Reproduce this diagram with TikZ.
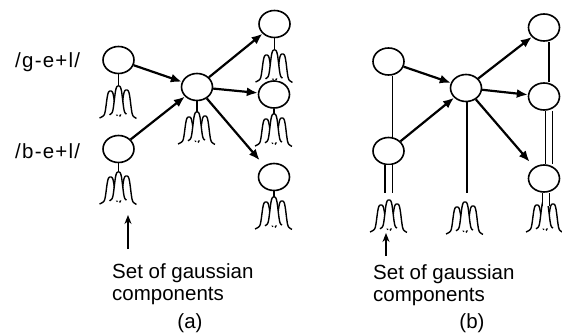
\documentclass[tikz,border=0pt]{standalone}
\usepackage{fontspec}
\setmainfont{Liberation Sans}
\newfontfamily\lblfont{Liberation Sans}[LetterSpace=6]
\usetikzlibrary{shapes.geometric,arrows.meta}

\tikzset{
  hmmstate/.style={ellipse, draw, line width=1.6pt, fill=white,
    minimum width=31pt, minimum height=27pt, inner sep=0pt},
  trans/.style={line width=2.2pt, -{Latex[length=11pt,width=9pt]}},
  tie/.style={line width=1.2pt},
  tiedouble/.style={line width=1.1pt, double, double distance=6pt},
  pointer/.style={line width=1.2pt, -{Stealth[length=9pt,width=7pt]}},
  caption/.style={font=\fontsize{20.5}{22}\selectfont, align=left, inner sep=0pt},
  phone/.style={font=\fontsize{20.5}{22}\selectfont\lblfont, inner sep=0pt},
  bell/.style={line width=1.4pt, fill=white},
  % one component: rounded finger with flaring tails
  declare function={fing(\t)=0.75*exp(-((\t)*(\t)/20.25)^2)+0.25*exp(-(\t)*(\t)/64);},
  % three overlapping gaussian components, hanging from the pic origin
  gmix/.pic={
    \filldraw[bell] plot[domain=-11:7, samples=51, smooth]
      ({\x-8},{33-28*fing(\x)});
    \filldraw[bell] plot[domain=-7:10, samples=51, smooth]
      ({\x+8},{34-30*fing(\x)});
    \filldraw[bell] plot[domain=-9:8, samples=51, smooth]
      ({\x},{31-31*fing(\x)});
  }
}

\begin{document}
\begin{tikzpicture}[x=1pt, y=-1pt]
  \fill[white] (0,0) rectangle (562,334);
  \useasboundingbox (0,0) rectangle (562,334);

  % ---------- (a) untied model ----------
  \node[phone, anchor=west] (lg) at (15,62) {/g-e+l/};
  \node[phone, anchor=west] (lb) at (15,151) {/b-e+l/};

  \node[hmmstate] (g)  at (118.5,60)  {};
  \node[hmmstate] (b)  at (118.5,149) {};
  \node[hmmstate] (c)  at (197,87)    {};
  \node[hmmstate] (r1) at (274.5,24)  {};
  \node[hmmstate] (r2) at (274,94.5)  {};
  \node[hmmstate] (r3) at (274,177)   {};

  \coordinate (gG)  at (118.5,86);
  \coordinate (bG)  at (118.5,172);
  \coordinate (cG)  at (197,112);
  \coordinate (r1G) at (274.5,50);
  \coordinate (r2G) at (274,114);
  \coordinate (r3G) at (274,197);

  \foreach \s in {g,b,c,r1,r2,r3}{
    \draw[tie] (\s.south) -- (\s G);
    \pic at (\s G) {gmix};
  }

  \draw[trans] (g) -- (c);
  \draw[trans] (b) -- (c);
  \draw[trans] (c) -- (r1);
  \draw[trans] (c) -- (r2);
  \draw[trans, shorten >=7pt] (c) -- (r3);

  \coordinate (pa0) at (128,249);
  \coordinate (pa1) at (128,215);
  \draw[pointer] (pa0) -- (pa1);

  \node[caption, anchor=base west] (capa) at (112,300) {Set of gaussian\\components};
  \node[caption, anchor=base] (taga) at (190,328) {(a)};

  % ---------- (b) tied model ----------
  \node[hmmstate] (g2) at (388.5,61.5) {};
  \node[hmmstate] (b2) at (388.5,151)  {};
  \node[hmmstate] (c2) at (466,88)     {};
  \node[hmmstate] (s1) at (544,27.5)   {};
  \node[hmmstate] (s2) at (544,96.5)   {};
  \node[hmmstate] (s3) at (544,178.5)  {};

  \coordinate (b2G) at (389,200);
  \coordinate (b2T) at (388.5,193);
  \coordinate (c2G) at (465,202);
  \coordinate (c2T) at (467,193);
  \coordinate (s3G) at (545,200);
  \coordinate (s3T) at (546,206);

  \draw[tie] ([xshift=4pt]g2.south) -- ([xshift=4pt]b2.north);
  \draw[tie] ([xshift=5pt]s1.south) -- ([xshift=5pt]s2.north);
  \draw[tiedouble] ([xshift=5pt]s2.south) -- ([xshift=5pt]s3.north);

  \pic at (b2G) {gmix};
  \pic at (c2G) {gmix};
  \pic at (s3G) {gmix};

  \draw[tiedouble] (b2.south) -- (b2T);
  \draw[tie] ([xshift=1pt]c2.south) -- (c2T);
  \draw[tiedouble] ([xshift=2pt]s3.south) -- (s3T);

  \draw[trans] (g2) -- (c2);
  \draw[trans] (b2) -- (c2);
  \draw[trans] (c2) -- (s1);
  \draw[trans] (c2) -- (s2);
  \draw[trans, shorten >=7pt] (c2) -- (s3);

  \coordinate (pb0) at (386,256);
  \coordinate (pb1) at (386,233);
  \draw[pointer] (pb0) -- (pb1);

  \node[caption, anchor=base west] (capb) at (373,301) {Set of gaussian\\components};
  \node[caption, anchor=base] (tagb) at (472,328) {(b)};
\end{tikzpicture}
\end{document}
